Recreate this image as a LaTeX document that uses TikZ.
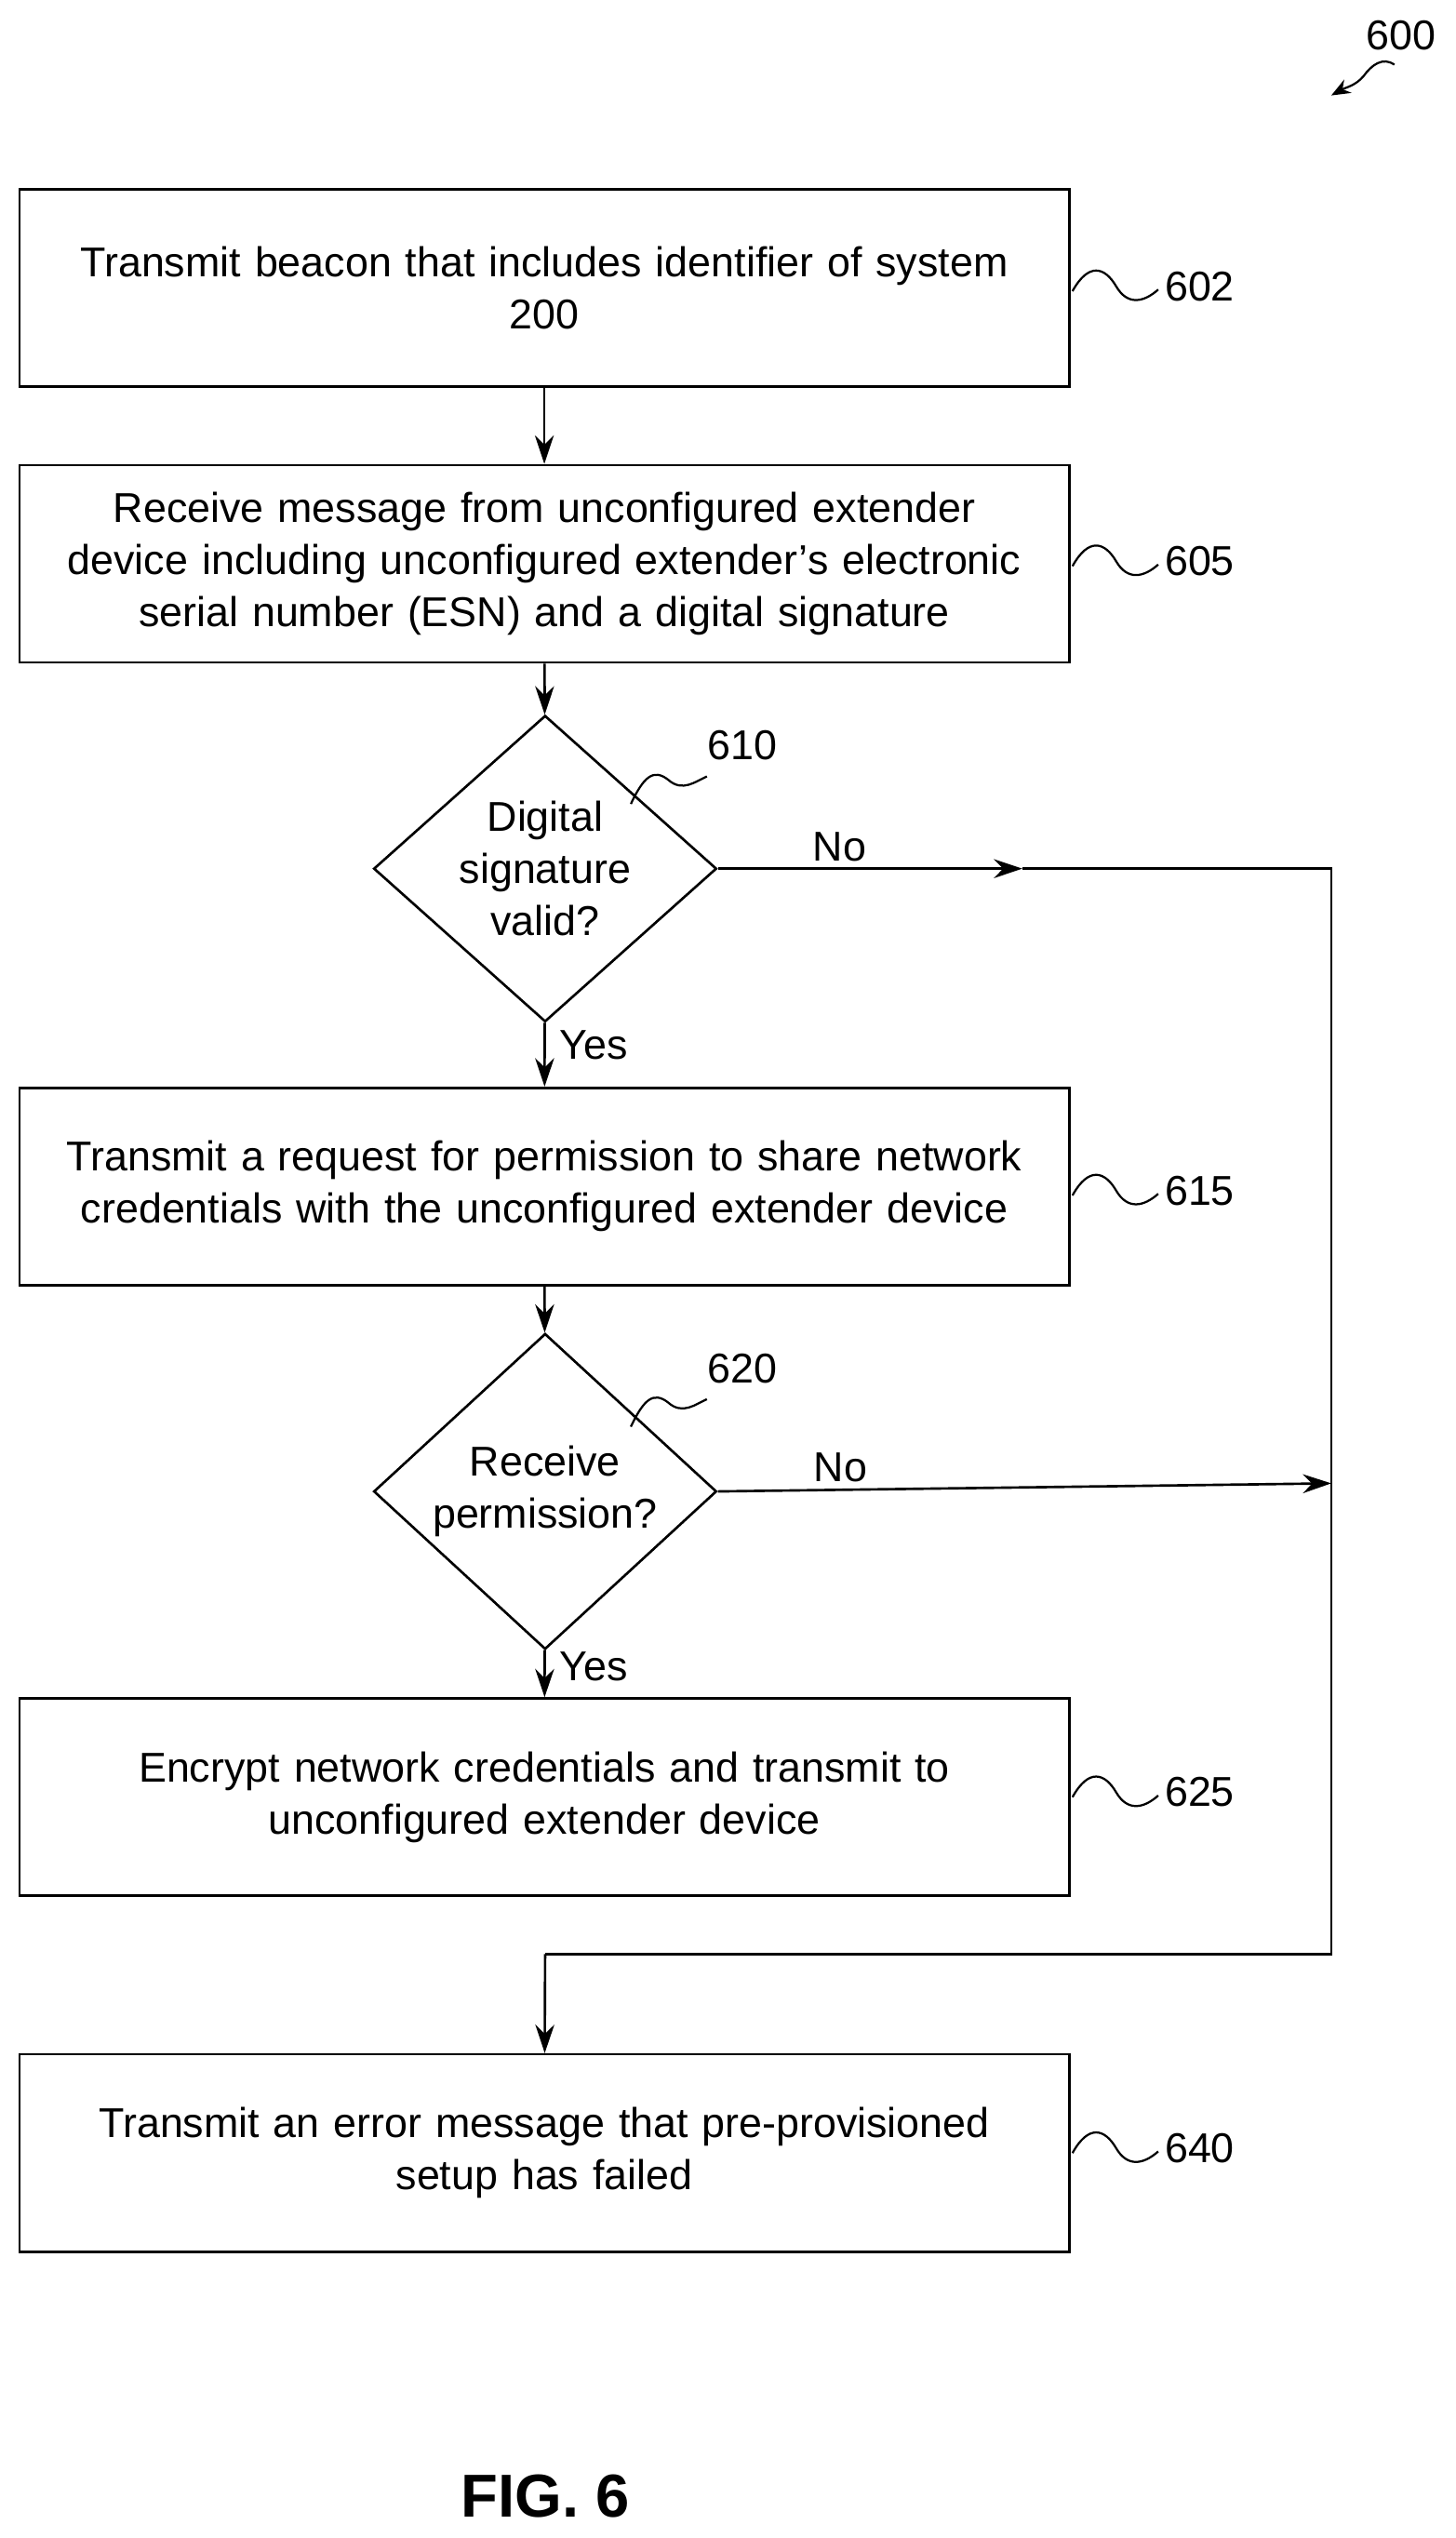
\documentclass[tikz,border=0pt]{standalone}
\usepackage{fontspec}
\setmainfont{Liberation Sans}
\usetikzlibrary{shapes.geometric,arrows.meta}
\begin{document}
\begin{tikzpicture}[x=0.03cm,y=-0.03cm,
 font=\fontsize{22pt}{27.5pt}\selectfont,
 box/.style={draw,line width=1.3pt,minimum width=19.47cm,minimum height=3.66cm,align=center,text width=19.2cm},
 dia/.style={draw,diamond,line width=1.3pt,minimum width=6.36cm,minimum height=4.75cm,inner sep=0pt,align=center},
 ar/.style={line width=1.3pt,-{Stealth[length=15pt,width=10pt]}},
 ln/.style={line width=1.3pt},
 sq/.style={line width=1.1pt}]
\useasboundingbox (0,0) rectangle (900,1569);
\node[box] (b602) at (336.5,178) {Transmit beacon that includes identifier of system\\200};
\node[box] (b605) at (336.5,348.5) {Receive message from unconfigured extender\\device including unconfigured extender's electronic\\serial number (ESN) and a digital signature};
\node[dia] (d610) at (337,537) {Digital\\signature\\valid?};
\node[box] (b615) at (336.5,733.5) {Transmit a request for permission to share network\\credentials with the unconfigured extender device};
\node[dia] (d620) at (337,922) {Receive\\permission?};
\node[box] (b625) at (336.5,1111) {Encrypt network credentials and transmit to\\unconfigured extender device};
\node[box] (b640) at (336.5,1331) {Transmit an error message that pre-provisioned\\setup has failed};
\coordinate (r1) at (823,537);
\coordinate (r2) at (823,917);
\coordinate (r3) at (823,1208);
\coordinate (r4) at (337,1208);
\coordinate (m1) at (632,537);
\draw[ar] (b602) -- (b605);
\draw[ar] (b605) -- (d610);
\draw[ar] (d610) -- node[right,xshift=4pt,pos=0.35]{Yes} (b615);
\draw[ar] (b615) -- (d620);
\draw[ar] (d620) -- node[right,xshift=4pt,pos=0.35]{Yes} (b625);
\draw[ar] (d610.east) -- node[above,pos=0.4]{No} (m1);
\draw[ln] (m1) -- (r1) -- (r3) -- (r4);
\draw[ar] (r4) -- (b640);
\draw[ar] (d620.east) -- node[above,pos=0.2]{No} (r2);
\foreach \n/\y in {602/177,605/347,615/736,625/1108,640/1328}{
 \draw[sq] (663,\y+3) .. controls (673,\y-15) and (683,\y-12) .. (690,\y) .. controls (697,\y+12) and (707,\y+10) .. (716,\y+2);
 \node[anchor=west] (l\n) at (716,\y) {\n};
}
\draw[sq] (390,497) .. controls (398,480) and (404,475) .. (413,482) .. controls (422,490) and (430,483) .. (437,480);
\node (l610) at (459,461) {610};
\draw[sq] (390,882) .. controls (398,865) and (404,860) .. (413,867) .. controls (422,875) and (430,868) .. (437,865);
\node (l620) at (459,846) {620};
\node (l600) at (866,22) {600};
\draw[sq,-{Stealth[length=10pt,width=8pt]}] (862,40) .. controls (855,35) and (848,40) .. (843,47) .. controls (838,53) and (832,54) .. (823,59);
\node[font=\fontsize{32pt}{38pt}\selectfont\bfseries] (fig) at (337,1543) {FIG. 6};
\end{tikzpicture}
\end{document}
